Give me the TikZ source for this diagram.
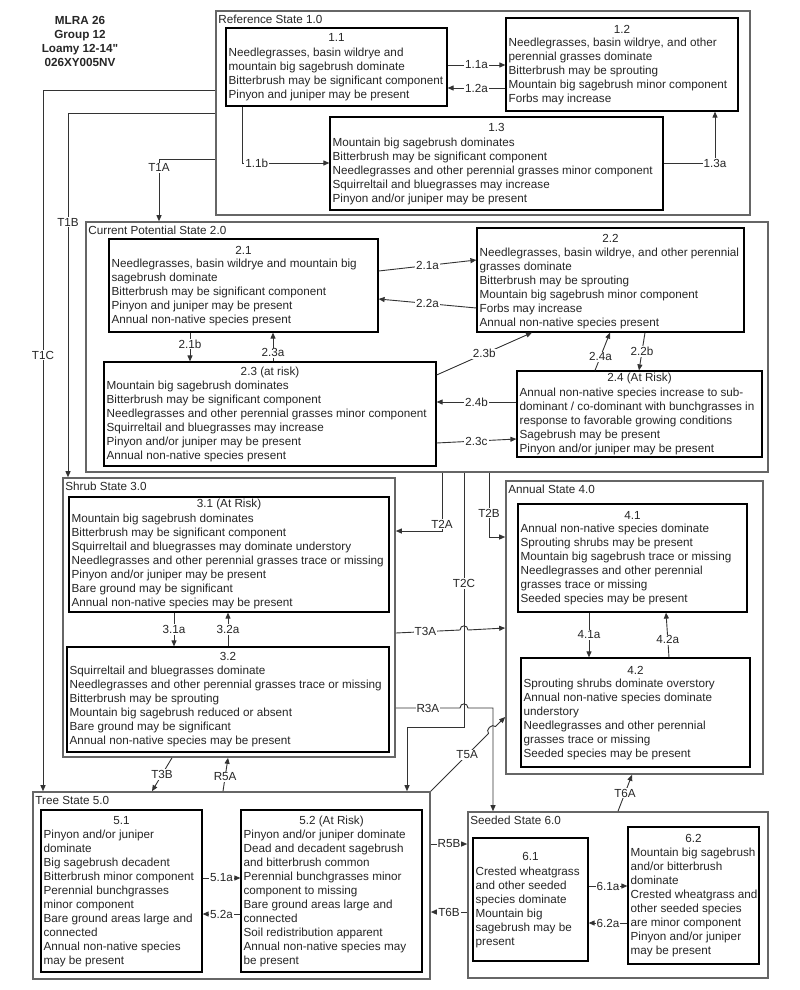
\documentclass[tikz,border=0pt]{standalone}
\usepackage{fontspec}
\setmainfont{Liberation Sans}
\usetikzlibrary{arrows.meta,calc,fit}
\newcommand\fsz{\fontsize{11.7}{14}\selectfont}
\newcommand\stbox[9]{%
  \node[ibox, fit={(#2,#3) (#4,#5)}] (#1) {};
  \node[ttl, anchor=base] (#1t) at ($(#1.north)+(0,#6+4)$) {#8};
  \node[body, anchor=north west] (#1b) at ($(#1.north west)+(3,#7-6.3)$) {\strut #9};
}
\newcommand\stgroup[6]{%
  \node[obox, fit={(#2,#3) (#4,#5)}] (#1) {};
  \node[body, anchor=base west] (#1l) at ($(#1.north west)+(3,13.5)$) {#6};
}
\tikzset{
  ibox/.style={draw=black, line width=1.2pt, inner sep=0pt},
  obox/.style={draw=black!60, line width=1.6pt, inner sep=0pt},
  ttl/.style={inner sep=0pt, font=\fsz, text=black!85},
  body/.style={inner sep=0pt, font=\fsz, align=left, text=black!85},
  conn/.style={draw=black!80, line width=0.9pt},
  arr/.style={conn, -{Triangle[length=6pt,width=5pt]}},
  lbl/.style={fill=white, inner sep=1pt, font=\fsz, text=black!85},
}
\begin{document}
\begin{tikzpicture}[x=1pt,y=-1pt]
\fill[white] (0,0) rectangle (800,990);
\useasboundingbox (0,0) rectangle (800,990);

\node[body, align=center, anchor=north, font=\fsz\bfseries] (hdr) at (80,14.2)
  {\strut MLRA 26\\Group 12\\Loamy 12-14\textquotedbl\\026XY005NV};

% state groups
\stgroup{b10}{216}{11}{750}{215}{Reference State 1.0}
\stgroup{b20}{86}{222}{768}{472}{Current Potential State 2.0}
\stgroup{b30}{63}{478}{395}{757}{Shrub State 3.0}
\stgroup{b40}{506}{481}{763}{774}{Annual State 4.0}
\stgroup{b50}{33}{792}{430}{979}{Tree State 5.0}
\stgroup{b60}{468}{812}{768}{978}{Seeded State 6.0}

% community boxes
\stbox{b11}{226}{28}{447}{106}{10}{25}{1.1}{Needlegrasses, basin wildrye and\\mountain big sagebrush dominate\\Bitterbrush may be significant component\\Pinyon and juniper may be present}
\stbox{b12}{506}{18}{738}{111}{12}{25}{1.2}{Needlegrasses, basin wildrye, and other\\perennial grasses dominate\\Bitterbrush may be sprouting\\Mountain big sagebrush minor component\\Forbs may increase}
\stbox{b13}{330}{117}{663}{210}{11}{26}{1.3}{Mountain big sagebrush dominates\\Bitterbrush may be significant component\\Needlegrasses and other perennial grasses minor component\\Squirreltail and bluegrasses may increase\\Pinyon and/or juniper may be present}

\stbox{b21}{109}{239}{378}{332}{12}{25}{2.1}{Needlegrasses, basin wildrye and mountain big\\sagebrush dominate\\Bitterbrush may be significant component\\Pinyon and juniper may be present\\Annual non-native species present}
\stbox{b22}{477}{228}{744}{332}{11}{25}{2.2}{Needlegrasses, basin wildrye, and other perennial\\grasses dominate\\Bitterbrush may be sprouting\\Mountain big sagebrush minor component\\Forbs may increase\\Annual non-native species present}
\stbox{b23}{104}{362}{436}{466}{10}{24}{2.3 (at risk)}{Mountain big sagebrush dominates\\Bitterbrush may be significant component\\Needlegrasses and other perennial grasses minor component\\Squirreltail and bluegrasses may increase\\Pinyon and/or juniper may be present\\Annual non-native species present}
\stbox{b24}{517}{371}{762}{457}{7}{22}{2.4 (At Risk)}{Annual non-native species increase to sub-\\dominant / co-dominant with bunchgrasses in\\response to favorable growing conditions\\Sagebrush may be present\\Pinyon and/or juniper may be present}

\stbox{b31}{69}{497}{389}{612}{7}{22}{3.1 (At Risk)}{Mountain big sagebrush dominates\\Bitterbrush may be significant component\\Squirreltail and bluegrasses may dominate understory\\Needlegrasses and other perennial grasses trace or missing\\Pinyon and/or juniper may be present\\Bare ground may be significant\\Annual non-native species may be present}
\stbox{b32}{67}{647}{389}{752}{10}{24}{3.2}{Squirreltail and bluegrasses dominate\\Needlegrasses and other perennial grasses trace or missing\\Bitterbrush may be sprouting\\Mountain big sagebrush reduced or absent\\Bare ground may be significant\\Annual non-native species may be present}

\stbox{b41}{518}{504}{747}{612}{12}{25}{4.1}{Annual non-native species dominate\\Sprouting shrubs may be present\\Mountain big sagebrush trace or missing\\Needlegrasses and other perennial\\grasses trace or missing\\Seeded species may be present}
\stbox{b42}{521}{658}{750}{767}{13}{26}{4.2}{Sprouting shrubs dominate overstory\\Annual non-native species dominate\\understory\\Needlegrasses and other perennial\\grasses trace or missing\\Seeded species may be present}

\stbox{b51}{41}{810}{202}{972}{11}{25}{5.1}{Pinyon and/or juniper\\dominate\\Big sagebrush decadent\\Bitterbrush minor component\\Perennial bunchgrasses\\minor component\\Bare ground areas large and\\connected\\Annual non-native species\\may be present}
\stbox{b52}{241}{810}{422}{972}{11}{25}{5.2 (At Risk)}{Pinyon and/or juniper dominate\\Dead and decadent sagebrush\\and bitterbrush common\\Perennial bunchgrasses minor\\component to missing\\Bare ground areas large and\\connected\\Soil redistribution apparent\\Annual non-native species may\\be present}

\stbox{b61}{473}{838}{588}{961}{19}{34}{6.1}{Crested wheatgrass\\and other seeded\\species dominate\\Mountain big\\sagebrush may be\\present}
\stbox{b62}{628}{827}{759}{964}{12}{26}{6.2}{Mountain big sagebrush\\and/or bitterbrush\\dominate\\Crested wheatgrass and\\other seeded species\\are minor component\\Pinyon and/or juniper\\may be present}

% transitions out of state 1
\draw[arr] (b10.west |- 0,90) -| node[lbl,pos=0.689]{T1C} (b50.north -| 43,0);
\draw[arr] (b10.west |- 0,113) -| node[lbl,pos=0.65]{T1B} (b30.north -| 68,0);
\draw[arr] (b10.west |- 0,159) -| node[lbl,pos=0.57]{T1A} (b20.north -| 159,0);

% within state 1
\draw[arr] (b11.east |- 0,65) -- node[lbl]{1.1a} (b12.west |- 0,65);
\draw[arr] (b12.west |- 0,88) -- node[lbl]{1.2a} (b11.east |- 0,88);
\draw[arr] (b11.south -| 242,0) |- node[lbl,pos=0.585]{1.1b} (b13.west |- 0,163);
\draw[arr] (b13.east |- 0,163) -| node[lbl,pos=0.5]{1.3a} (b12.south -| 715,0);

% within state 2
\draw[arr] (b21.east |- 0,271) -- node[lbl]{2.1a} (b22.west |- 0,260);
\draw[arr] (b22.west |- 0,308) -- node[lbl]{2.2a} (b21.east |- 0,299);
\draw[arr] (b21.south -| 190,0) -- node[lbl,pos=0.4]{2.1b} (b23.north -| 190,0);
\draw[arr] (b23.north -| 273,0) -- node[lbl,pos=0.3]{2.3a} (b21.south -| 273,0);
\draw[arr] (b23.east |- 0,375) -- node[lbl]{2.3b} (b22.south -| 532,0);
\draw[arr] (b24.north -| 595,0) -- node[lbl,pos=0.36]{2.4a} (b22.south -| 610,0);
\draw[arr] (b22.south -| 645,0) -- node[lbl,pos=0.5]{2.2b} (b24.north -| 639,0);
\draw[arr] (b24.west |- 0,402) -- node[lbl]{2.4b} (b23.east |- 0,402);
\draw[arr] (b23.east |- 0,443) -- node[lbl]{2.3c} (b24.west |- 0,439);

% transitions out of state 2
\draw[arr] (b20.south -| 442,0) |- node[lbl,pos=0.44]{T2A} (b30.east |- 0,531);
\draw[arr] (b20.south -| 489,0) |- node[lbl,pos=0.315]{T2B} (b40.west |- 0,537);
\draw[arr] (b20.south -| 464,0) -- node[lbl,pos=0.435]{T2C} (464,727) -| (b50.north -| 407,0);

% within state 3
\draw[arr] (b31.south -| 174,0) -- node[lbl]{3.1a} (b32.north -| 174,0);
\draw[arr] (b32.north -| 228,0) -- node[lbl]{3.2a} (b31.south -| 228,0);

% transitions out of state 3
\draw[arr] (b30.east |- 0,633) -- node[lbl,pos=0.46]{T3A} (460,630)
  .. controls (460,624.5) and (468,624.5) .. (468,630) -- (b40.west |- 0,628);
\draw[arr] (b30.east |- 0,708) -- node[lbl,pos=0.5]{R3A} (460,708)
  .. controls (460,702.5) and (468,702.5) .. (468,708) -| (b60.north -| 493,0);
\draw[arr] (b30.south -| 172,0) -- node[lbl]{T3B} (b50.north -| 152,0);

% within state 4
\draw[arr] (b41.south -| 589,0) -- node[lbl,pos=0.5]{4.1a} (b42.north -| 589,0);
\draw[arr] (b42.north -| 669,0) -- node[lbl,pos=0.39]{4.2a} (b41.south -| 666,0);

% state 5
\draw[arr] (b50.north -| 223,0) -- node[lbl,pos=0.43]{R5A} (b30.south -| 228,0);
\draw[arr] (b50.north east) -- node[lbl,pos=0.63]{T5A} (488.5,733.5)
  .. controls (485,730) and (492,723) .. (495.5,726.5) -- (b40.west |- 0,717);
\draw[arr] (b50.east |- 0,844) -- node[lbl]{R5B} (b60.west |- 0,844);
\draw[arr] (b51.east |- 0,878) -- node[lbl]{5.1a} (b52.west |- 0,878);
\draw[arr] (b52.west |- 0,914) -- node[lbl]{5.2a} (b51.east |- 0,914);

% state 6
\draw[arr] (b60.north -| 618,0) -- node[lbl]{T6A} (b40.south -| 632,0);
\draw[arr] (b60.west |- 0,912) -- node[lbl]{T6B} (b50.east |- 0,912);
\draw[arr] (b61.east |- 0,886) -- node[lbl]{6.1a} (b62.west |- 0,886);
\draw[arr] (b62.west |- 0,923) -- node[lbl]{6.2a} (b61.east |- 0,923);
\end{tikzpicture}
\end{document}
